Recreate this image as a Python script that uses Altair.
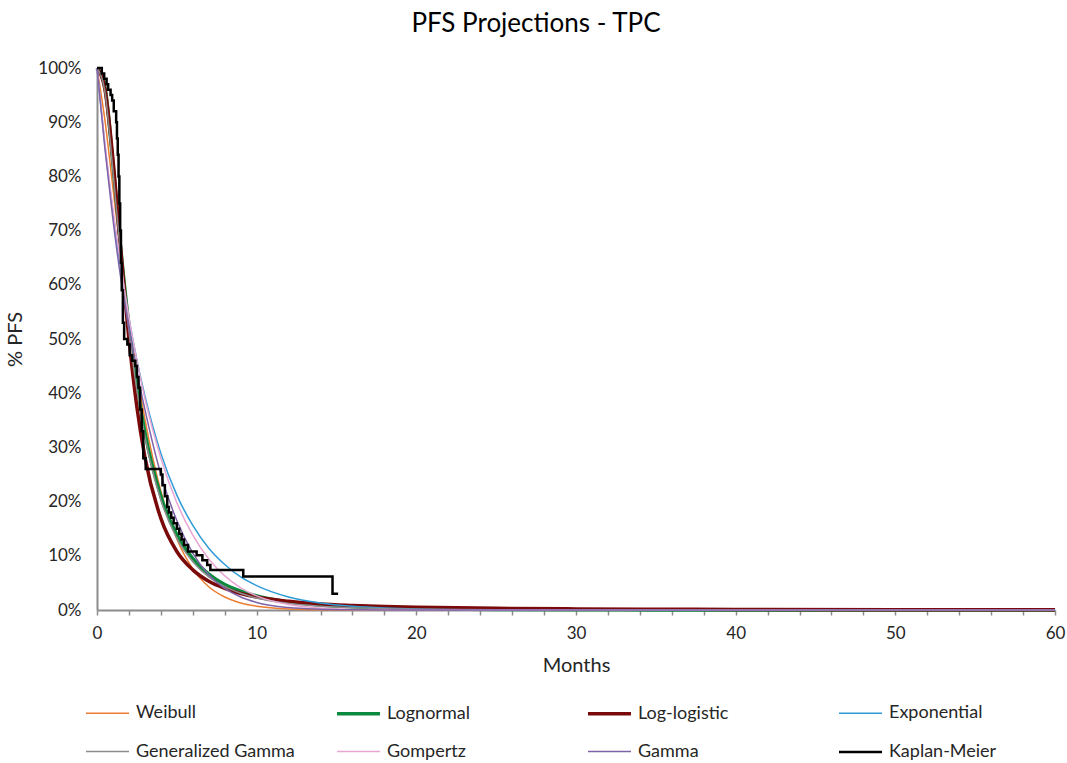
import altair as alt
import pandas as pd

# ---- data ----
months = [0, 0.5, 1, 1.5, 2, 2.5, 3, 4, 5, 6, 7, 8, 9, 10, 12, 14, 16, 18, 20, 25, 30, 35, 40, 50, 60]

weibull = [100, 90.3, 77.8, 65.4, 53.9, 43.8, 35.2, 21.9, 13.1, 7.6, 4.3, 2.4, 1.3, 0.7, 0.18, 0.04, 0.01, 0, 0, 0, 0, 0, 0, 0, 0]
lognormal = [100, 96.4, 82.3, 66.3, 52.4, 41.4, 32.8, 21.0, 13.9, 9.5, 6.6, 4.7, 3.5, 2.6, 1.5, 0.9, 0.56, 0.36, 0.24, 0.10, 0.04, 0.02, 0.01, 0, 0]
loglogistic = [100, 96.0, 83.1, 66.0, 50.0, 37.4, 28.2, 16.9, 10.8, 7.4, 5.3, 4.0, 3.05, 2.4, 1.6, 1.1, 0.83, 0.63, 0.50, 0.30, 0.20, 0.14, 0.10, 0.06, 0.04]
exponential = [100, 85.6, 73.3, 62.8, 53.8, 46.1, 39.5, 28.9, 21.2, 15.6, 11.4, 8.4, 6.1, 4.5, 2.4, 1.3, 0.7, 0.38, 0.2, 0.04, 0.01, 0, 0, 0, 0]
gen_gamma = [100, 95.5, 81.0, 65.0, 51.5, 40.5, 32.0, 20.3, 13.2, 8.9, 6.1, 4.3, 3.1, 2.2, 1.2, 0.7, 0.4, 0.25, 0.15, 0.05, 0.02, 0.01, 0, 0, 0]
gompertz = [100, 86.0, 74.0, 63.5, 54.0, 46.0, 39.0, 28.0, 19.8, 13.8, 9.4, 6.3, 4.1, 2.6, 1.0, 0.35, 0.1, 0.03, 0, 0, 0, 0, 0, 0, 0]
gamma = [100, 85.0, 72.0, 61.0, 52.0, 44.0, 37.0, 25.0, 16.5, 10.5, 6.5, 4.0, 2.4, 1.4, 0.45, 0.14, 0.04, 0.01, 0, 0, 0, 0, 0, 0, 0]

km_months = [0, 0.3, 0.45, 0.6, 0.7, 0.85, 0.95, 1.05, 1.2, 1.25, 1.3, 1.35, 1.4, 1.45, 1.5, 1.55,
             1.62, 1.7, 1.9, 2.05, 2.2, 2.4, 2.5, 2.6, 2.7, 2.8, 2.9, 3.05, 4.0, 4.1, 4.25, 4.4,
             4.5, 4.65, 4.8, 5.0, 5.15, 5.3, 5.45, 5.7, 6.24, 6.6, 6.9, 7.1, 9.16, 14.75, 15.1]
km_pfs = [100, 99, 98, 97, 96, 95, 94, 92, 90, 87, 84, 80, 75, 70, 64, 59,
          53, 50, 49, 47, 46, 45, 43, 41, 37, 33, 28, 26, 25, 23, 21, 19,
          18, 17, 16, 15, 14, 13, 12, 10.8, 10.1, 9.2, 8.3, 7.4, 6.2, 3.0, 3.0]

series_names = ["Weibull", "Lognormal", "Log-logistic", "Exponential",
                "Generalized Gamma", "Gompertz", "Gamma", "Kaplan-Meier"]
series_colors = ["#ED7D31", "#0B8A3E", "#7A0A0A", "#2E9BD6",
                 "#8C8C8C", "#E8A6D2", "#7E63A8", "#000000"]
series_widths = [1.5, 3.5, 3.5, 1.5, 1.5, 1.5, 1.5, 2.5]

x_ticks = list(range(0, 61, 2))
y_ticks = [0, 0.1, 0.2, 0.3, 0.4, 0.5, 0.6, 0.7, 0.8, 0.9, 1.0]

fit_values = [weibull, lognormal, loglogistic, exponential, gen_gamma, gompertz, gamma]

rows = []
for name, vals in zip(series_names[:7], fit_values):
    for m, v in zip(months, vals):
        rows.append({"series": name, "month": m, "pfs": v / 100.0})
fit_df = pd.DataFrame(rows)
km_df = pd.DataFrame({"series": "Kaplan-Meier", "month": km_months,
                      "pfs": [v / 100.0 for v in km_pfs]})

FONT = "Lato"
TEXT = "#262626"
AXIS_GRAY = "#8C8C8C"

legend = alt.Legend(
    title=None, orient="none", legendX=-13, legendY=622,
    direction="horizontal", columns=4, gridAlign="all",
    columnPadding=34, rowPadding=6,
    symbolType="stroke", symbolSize=1850, labelOffset=5,
    labelFont=FONT, labelFontSize=18, labelColor=TEXT,
)

color = alt.Color("series:N", sort=series_names,
                  scale=alt.Scale(domain=series_names, range=series_colors),
                  legend=legend)
swidth = alt.StrokeWidth("series:N", sort=series_names,
                         scale=alt.Scale(type="ordinal", domain=series_names, range=series_widths),
                         legend=legend)

x_enc = alt.X("month:Q", scale=alt.Scale(domain=[0, 60], nice=False),
              axis=alt.Axis(values=x_ticks, title="Months",
                            labelExpr="datum.value % 10 === 0 ? datum.value : ''",
                            labelOverlap=False, labelFlush=False, grid=False,
                            tickSize=5, tickColor=AXIS_GRAY, domainColor=AXIS_GRAY,
                            domainWidth=2, tickWidth=1.5, labelPadding=10,
                            labelFont=FONT, labelFontSize=17, labelColor=TEXT,
                            titleFont=FONT, titleFontSize=20, titleFontWeight="normal",
                            titleColor=TEXT, titlePadding=14))
y_enc = alt.Y("pfs:Q", scale=alt.Scale(domain=[0, 1], nice=False),
              axis=alt.Axis(values=y_ticks, format=".0%", title="% PFS", grid=False,
                            ticks=False, domainColor=AXIS_GRAY, domainWidth=2,
                            labelPadding=16, labelFont=FONT, labelFontSize=17,
                            labelColor=TEXT, titleFont=FONT, titleFontSize=20,
                            titleFontWeight="normal", titleColor=TEXT,
                            titleX=-82, titleY=271, titleAngle=270,
                            titleAlign="center", titleBaseline="middle"))

fits = alt.Chart(fit_df).mark_line(interpolate="monotone").encode(
    x=x_enc, y=y_enc, color=color, strokeWidth=swidth, detail="series:N"
)
km = alt.Chart(km_df).mark_line(interpolate="step-after").encode(
    x=x_enc, y=y_enc, color=color, strokeWidth=swidth
)

chart = alt.layer(fits, km).properties(
    width=958, height=542,
    title=alt.TitleParams("PFS Projections - TPC", font=FONT, fontSize=26,
                          fontWeight="normal", color="#000000", anchor="middle",
                          dx=-40, offset=22),
    autosize=alt.AutoSizeParams(type="none"),
    padding={"left": 97, "top": 68, "right": 12, "bottom": 153},
    background="white",
).configure_view(stroke=None)

chart.save("out.html", embed_options={"renderer": "svg", "actions": False})
